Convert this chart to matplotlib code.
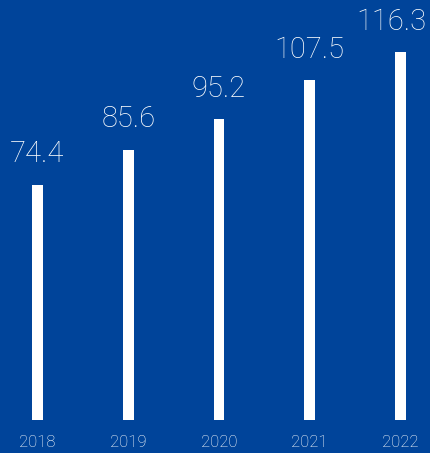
import matplotlib
matplotlib.use("Agg")
import matplotlib.pyplot as plt

# Datos
anios = ["2018", "2019", "2020", "2021", "2022"]
valores = [74.4, 85.6, 95.2, 107.5, 116.3]

fondo = "#00449a"
fuente = "Roboto"

fig = plt.figure(figsize=(4.3, 4.53), dpi=100)
fig.patch.set_facecolor(fondo)
ax = fig.add_axes([0, 0, 1, 1])
ax.set_facecolor(fondo)

x = list(range(len(anios)))
ax.bar(x, valores, width=0.121, color="white")

# Etiquetas de valor sobre cada barra (la última pegada al borde derecho)
for i, (xi, v) in enumerate(zip(x, valores)):
    ultimo = i == len(valores) - 1
    ax.annotate(f"{v:.1f}", (xi, v), xytext=(19 if ultimo else 0, 12),
                textcoords="offset points", ha="right" if ultimo else "center",
                va="bottom", color="white", fontsize=21,
                family=fuente, fontweight="light")

# Años debajo
for xi, a in zip(x, anios):
    ax.text(xi, 0.024, a, transform=ax.get_xaxis_transform(), ha="center", va="center",
            color="white", fontsize=12, family=fuente, fontweight="light")

ax.set_xlim(-0.413, 4.325)
ax.set_ylim(-10.4, 132.9)
ax.axis("off")

fig.savefig("out.png", dpi=100, facecolor=fondo)
